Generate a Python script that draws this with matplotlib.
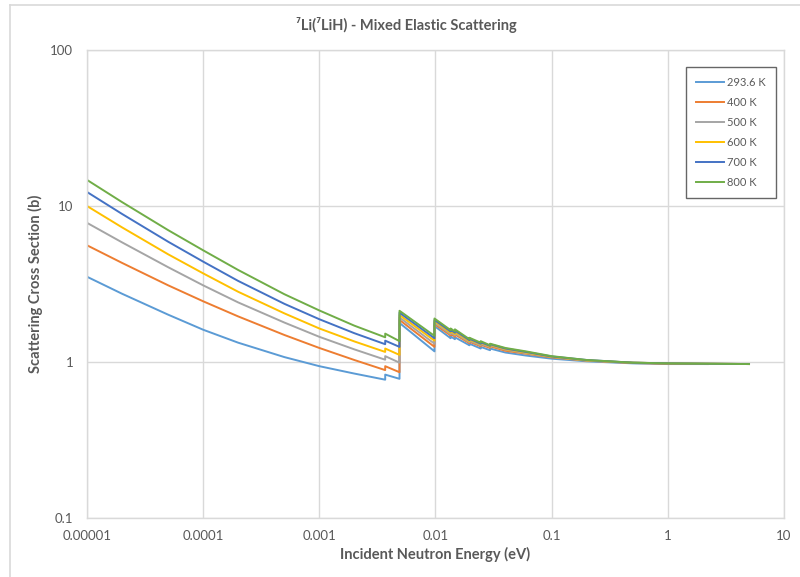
import matplotlib
matplotlib.use("Agg")
import matplotlib.pyplot as plt
from matplotlib.lines import Line2D
import numpy as np

plt.rcParams['font.family'] = ['Lato', 'DejaVu Sans']

# energies (eV), repeated values are the Bragg edge steps
energy = [1e-5, 2e-5, 5e-5, 1e-4, 2e-4, 5e-4, 1e-3, 2e-3,
          3.69e-3, 3.69e-3, 4.9e-3, 4.9e-3, 9.8e-3, 9.8e-3,
          1.35e-2, 1.35e-2, 1.47e-2, 1.47e-2, 1.96e-2, 1.96e-2,
          2.45e-2, 2.45e-2, 2.95e-2, 2.95e-2,
          0.04, 0.06, 0.1, 0.2, 0.5, 1.0, 2.2, 5.0]

xs_293 = [3.52, 2.74, 2.01, 1.61, 1.33, 1.075, 0.94, 0.843,
          0.77, 0.83, 0.78, 1.78, 1.17, 1.70,
          1.42, 1.46, 1.40, 1.44, 1.28, 1.31,
          1.22, 1.25, 1.19, 1.22,
          1.15, 1.10, 1.05, 1.01, 0.98, 0.97, 0.97, np.nan]
xs_400 = [5.6, 4.32, 3.1, 2.45, 1.96, 1.49, 1.23, 1.03,
          0.887, 0.94, 0.86, 1.86, 1.25, 1.75,
          1.48, 1.52, 1.45, 1.50, 1.32, 1.35,
          1.26, 1.29, 1.23, 1.26,
          1.18, 1.13, 1.07, 1.02, 0.985, 0.975, 0.97, np.nan]
xs_500 = [7.8, 5.85, 4.05, 3.1, 2.41, 1.79, 1.45, 1.205,
          1.034, 1.09, 0.99, 1.93, 1.31, 1.79,
          1.51, 1.55, 1.48, 1.53, 1.34, 1.37,
          1.28, 1.31, 1.25, 1.28,
          1.20, 1.14, 1.08, 1.02, 0.99, 0.98, 0.975, 0.97]
xs_600 = [10.0, 7.3, 4.9, 3.7, 2.82, 2.05, 1.64, 1.355,
          1.16, 1.22, 1.11, 2.0, 1.37, 1.83,
          1.54, 1.58, 1.51, 1.56, 1.36, 1.39,
          1.30, 1.33, 1.26, 1.29,
          1.21, 1.15, 1.08, 1.025, 0.99, 0.98, 0.975, 0.97]
xs_700 = [12.3, 8.9, 5.9, 4.4, 3.31, 2.36, 1.88, 1.53,
          1.30, 1.37, 1.25, 2.07, 1.42, 1.86,
          1.57, 1.61, 1.54, 1.59, 1.38, 1.41,
          1.31, 1.34, 1.27, 1.30,
          1.22, 1.16, 1.085, 1.03, 0.99, 0.98, 0.975, 0.97]
xs_800 = [14.7, 10.6, 7.0, 5.2, 3.89, 2.72, 2.14, 1.71,
          1.44, 1.52, 1.36, 2.13, 1.47, 1.90,
          1.60, 1.64, 1.57, 1.62, 1.40, 1.43,
          1.33, 1.36, 1.28, 1.31,
          1.23, 1.17, 1.09, 1.03, 0.99, 0.98, 0.975, 0.97]

labels = ["293.6 K", "400 K", "500 K", "600 K", "700 K", "800 K"]
series = [xs_293, xs_400, xs_500, xs_600, xs_700, xs_800]
colors = ["#5B9BD5", "#ED7D31", "#A5A5A5", "#FFC000", "#4472C4", "#70AD47"]

x_ticks = [1e-5, 1e-4, 1e-3, 1e-2, 1e-1, 1, 10]
x_ticklabels = ["0.00001", "0.0001", "0.001", "0.01", "0.1", "1", "10"]
y_ticks = [0.1, 1, 10, 100]
y_ticklabels = ["0.1", "1", "10", "100"]

txt = "#595959"
grid = "#D9D9D9"

fig = plt.figure(figsize=(8, 5.77), dpi=100)
ax = fig.add_axes([0.10875, 0.1023, 0.87125, 0.811])

for vals, lab, c in zip(series, labels, colors):
    ax.plot(energy, vals, color=c, lw=1.4, label=lab)

ax.set_xscale("log")
ax.set_yscale("log")
ax.set_xlim(1e-5, 10)
ax.set_ylim(0.1, 100)
ax.set_xticks(x_ticks)
ax.set_xticklabels(x_ticklabels)
ax.set_yticks(y_ticks)
ax.set_yticklabels(y_ticklabels)
ax.minorticks_off()
ax.tick_params(length=0, labelsize=9.5, colors=txt)
ax.tick_params(axis="x", pad=9)
ax.tick_params(axis="y", pad=10)
ax.grid(True, color=grid, lw=1)
ax.set_axisbelow(True)
for s in ax.spines.values():
    s.set_color(grid)
    s.set_linewidth(1)

ax.set_xlabel("Incident Neutron Energy (eV)", fontsize=10.5, fontweight="bold", color=txt, labelpad=3)
ax.set_ylabel("Scattering Cross Section (b)", fontsize=10.5, fontweight="bold", color=txt, labelpad=5)

fig.text(0.5075, 1 - 25 / 577, "\u2077Li(\u2077LiH) - Mixed Elastic Scattering",
         ha="center", va="center", fontsize=10.5, fontweight="bold", color=txt)

leg = ax.legend(loc="upper right", bbox_to_anchor=(0.991, 0.968), fontsize=8,
                frameon=True, fancybox=False, handlelength=2.5, handletextpad=0.3,
                labelspacing=0.8, borderpad=0.9, borderaxespad=0.2, labelcolor=txt)
leg.get_frame().set_edgecolor("#404040")
leg.get_frame().set_linewidth(1)

# outer chart area border
fig.add_artist(Line2D([10 / 800, 10 / 800], [0, 1 - 5 / 577], color=grid, lw=1.2))
fig.add_artist(Line2D([10 / 800, 1], [1 - 5 / 577, 1 - 5 / 577], color=grid, lw=1.2))

fig.savefig("out.png", dpi=100)
